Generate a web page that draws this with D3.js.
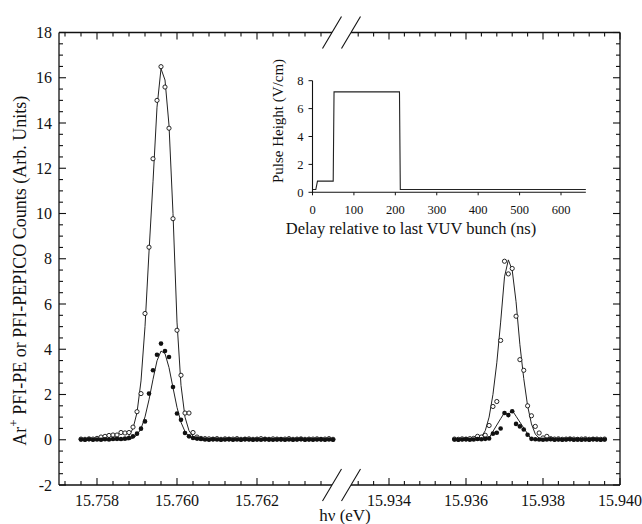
<!DOCTYPE html>
<html><head><meta charset="utf-8">
<script src="https://cdn.jsdelivr.net/npm/d3@7"></script>
<style>
html,body{margin:0;padding:0;background:#fff;}
svg{display:block;font-family:"Liberation Serif","Times New Roman",serif;}
</style></head><body>
<svg id="chart" width="642" height="524"></svg>
<script>
// ---------- DATA ----------
const leftEnergy = [15.7576,15.7577,15.7578,15.7579,15.7580,15.7581,15.7582,15.7583,15.7584,15.7585,
  15.7586,15.7587,15.7588,15.7589,15.7590,15.7591,15.7592,15.7593,15.7594,15.7595,
  15.7596,15.7597,15.7598,15.7599,15.7600,15.7601,15.7602,15.7603,15.7604,15.7605,
  15.7606,15.7607,15.7608,15.7609,15.7610,15.7611,15.7612,15.7613,15.7614,15.7615,
  15.7616,15.7617,15.7618,15.7619,15.7620,15.7621,15.7622,15.7623,15.7624,15.7625,
  15.7626,15.7627,15.7628,15.7629,15.7630,15.7631,15.7632,15.7633,15.7634,15.7635,
  15.7636,15.7637,15.7638,15.7639];
const leftPE = [0.03,0.02,0.04,0.03,0.06,0.12,0.15,0.19,0.21,0.21,
  0.32,0.30,0.32,0.56,1.24,2.04,5.58,8.51,12.42,15.0,
  16.49,15.59,13.77,9.77,4.84,2.85,1.18,1.18,0.32,0.12,
  0.06,0.05,0.04,0.03,0.05,0.02,0.04,0.03,0.03,0.05,
  0.02,0.03,0.04,0.02,0.03,0.05,0.03,0.02,0.04,0.03,
  0.02,0.03,0.05,0.02,0.03,0.04,0.02,0.03,0.03,0.04,
  0.02,0.03,0.05,0.02];
const leftPEPICO = [0.01,0.0,0.02,0.0,0.01,0.0,0.02,0.01,0.03,0.04,
  0.03,0.05,0.08,0.15,0.27,0.49,0.81,2.04,3.07,3.76,
  4.25,3.92,3.66,2.33,1.16,0.88,0.30,0.15,0.08,0.05,
  0.03,0.01,0.0,0.02,0.01,0.0,0.01,0.02,0.0,0.01,
  0.0,0.02,0.01,0.0,0.01,0.0,0.02,0.01,0.0,0.01,
  0.02,0.0,0.01,0.0,0.01,0.02,0.0,0.01,0.0,0.01,
  0.02,0.0,0.01,0.0];
const leftPEFit = [0,0,0,0,0,0,0,0,0,0,
  0,0,0.18,0.5,1.2,2.6,5.0,8.3,11.4,14.7,
  16.4,15.9,13.9,10.0,5.2,2.4,1.0,0.4,0.15,0.05,
  0,0,0,0,0,0,0,0,0,0,
  0,0,0,0,0,0,0,0,0,0,
  0,0,0,0,0,0,0,0,0,0,
  0,0,0,0];
const leftPEPICOFit = [0,0,0,0,0,0,0,0,0,0,
  0,0,0,0.08,0.21,0.49,1.01,1.77,2.67,3.49,
  3.92,3.81,3.19,2.30,1.43,0.77,0.36,0.14,0.05,0,
  0,0,0,0,0,0,0,0,0,0,
  0,0,0,0,0,0,0,0,0,0,
  0,0,0,0,0,0,0,0,0,0,
  0,0,0,0];

const rightEnergy = [15.9357,15.9358,15.9359,15.9360,15.9361,15.9362,15.9363,15.9364,15.9365,15.9366,
  15.9367,15.9368,15.9369,15.9370,15.9371,15.9372,15.9373,15.9374,15.9375,15.9376,
  15.9377,15.9378,15.9379,15.9380,15.9381,15.9382,15.9383,15.9384,15.9385,15.9386,
  15.9387,15.9388,15.9389,15.9390,15.9391,15.9392,15.9393,15.9394,15.9395,15.9396];
const rightPE = [0.03,0.02,0.04,0.03,0.05,0.06,0.15,0.12,0.2,0.63,
  1.47,1.69,4.39,7.89,7.33,7.57,5.46,3.54,3.07,1.5,
  1.06,0.59,0.30,0.08,0.15,0.05,0.03,0.04,0.02,0.03,
  0.04,0.03,0.02,0.03,0.04,0.02,0.03,0.03,0.02,0.03];
const rightPEPICO = [0.01,0.0,0.01,0.02,0.0,0.01,0.03,0.02,0.04,0.06,
  0.27,0.31,0.5,1.18,1.09,1.26,0.70,0.59,0.45,0.22,
  0.04,0.02,0.01,0.0,0.01,0.02,0.0,0.01,0.0,0.01,
  0.02,0.0,0.01,0.0,0.01,0.0,0.02,0.01,0.0,0.01];
const rightPEFit = [0,0,0,0,0,0,0.04,0.13,0.4,1.0,
  2.0,3.4,5.2,7.2,7.95,7.5,6.1,4.2,2.7,1.5,
  0.7,0.25,0.07,0,0,0,0,0,0,0,
  0,0,0,0,0,0,0,0,0,0];
const rightPEPICOFit = [0,0,0,0,0,0,0,0,0,0.08,
  0.37,0.65,0.93,1.2,1.1,1.3,1.04,0.78,0.52,0.26,
  0.02,0,0,0,0,0,0,0,0,0,
  0,0,0,0,0,0,0,0,0,0];

const leftTicks = [15.758, 15.760, 15.762];
const rightTicks = [15.934, 15.936, 15.938, 15.940];
const yTicks = [-2, 0, 2, 4, 6, 8, 10, 12, 14, 16, 18];

const pulseTime = [0, 8, 12, 50, 52, 210, 212, 660];
const pulseField = [0.2, 0.2, 0.8, 0.8, 7.2, 7.2, 0.2, 0.2];
const insetXTicks = [0, 100, 200, 300, 400, 500, 600];
const insetYTicks = [0, 2, 4, 6, 8];

// ---------- LAYOUT ----------
const L = 59, R = 620, T = 32.5, B = 485;
const breakL = 332, breakR = 351;
const svg = d3.select("#chart");
const ink = "#111";

const y = d3.scaleLinear().domain([-2, 18]).range([B, T]);
const xL = d3.scaleLinear().domain([15.758, 15.762]).range([97, 257]);
const xR = d3.scaleLinear().domain([15.934, 15.940]).range([389, 620]);

const g = svg.append("g");

// frame
const frame = g.append("g").attr("stroke", ink).attr("stroke-width", 1.3).attr("fill", "none");
frame.append("line").attr("x1", L).attr("x2", L).attr("y1", T).attr("y2", B);
frame.append("line").attr("x1", R).attr("x2", R).attr("y1", T).attr("y2", B);
[T, B].forEach(yy => {
  frame.append("line").attr("x1", L).attr("x2", breakL).attr("y1", yy).attr("y2", yy);
  frame.append("line").attr("x1", breakR).attr("x2", R).attr("y1", yy).attr("y2", yy);
  [breakL, breakR].forEach(bx => {
    frame.append("line").attr("x1", bx - 9.5).attr("y1", yy + 16).attr("x2", bx + 9.5).attr("y2", yy - 16)
      .attr("stroke-width", 1.1);
  });
});

// y ticks
const tk = g.append("g").attr("stroke", ink).attr("stroke-width", 1.1);
d3.range(-2, 18.01, 0.5).forEach(v => {
  const major = Math.abs(v / 2 - Math.round(v / 2)) < 1e-6;
  const len = major ? 7 : 4;
  tk.append("line").attr("x1", L).attr("x2", L + len).attr("y1", y(v)).attr("y2", y(v));
  tk.append("line").attr("x1", R).attr("x2", R - len).attr("y1", y(v)).attr("y2", y(v));
});
g.append("g").selectAll("text").data(yTicks).join("text")
  .attr("x", L - 7).attr("y", d => y(d) + 5.5).attr("text-anchor", "end")
  .attr("font-size", 16).attr("fill", ink).text(d => d);

// x ticks
function xTickSet(scale, lo, hi, majors) {
  const vals = d3.range(lo, hi + 1e-7, 0.0004);
  vals.forEach(v => {
    const px = scale(v);
    const major = majors.some(m => Math.abs(m - v) < 1e-7);
    const len = major ? 7 : 4;
    tk.append("line").attr("x1", px).attr("x2", px).attr("y1", B).attr("y2", B - len);
    tk.append("line").attr("x1", px).attr("x2", px).attr("y1", T).attr("y2", T + len);
  });
}
xTickSet(xL, 15.7572, 15.7636, leftTicks);
xTickSet(xR, 15.9332, 15.9400, rightTicks);
g.append("g").selectAll("text").data(leftTicks).join("text")
  .attr("x", d => xL(d)).attr("y", B + 21).attr("text-anchor", "middle")
  .attr("font-size", 16).attr("fill", ink).text(d => d.toFixed(3));
g.append("g").selectAll("text").data(rightTicks).join("text")
  .attr("x", d => xR(d)).attr("y", B + 21).attr("text-anchor", "middle")
  .attr("font-size", 16).attr("fill", ink).text(d => d.toFixed(3));

// axis titles
g.append("text").attr("x", 345).attr("y", 521).attr("text-anchor", "middle")
  .attr("font-size", 17).attr("fill", ink).text("hν (eV)");
const yt = g.append("text").attr("transform", `translate(26,${(T + B) / 2 + 12}) rotate(-90)`)
  .attr("text-anchor", "middle").attr("font-size", 18).attr("fill", ink);
yt.append("tspan").text("Ar");
yt.append("tspan").attr("dy", -8).attr("font-size", 13).text("+");
yt.append("tspan").attr("dy", 8).text(" PFI-PE or PFI-PEPICO Counts (Arb. Units)");

// ---------- SERIES ----------
function series(xs, scale, ys) { return xs.map((e, i) => [scale(e), y(ys[i])]); }
const line = d3.line();
const lines = g.append("g").attr("fill", "none").attr("stroke", "#222").attr("stroke-width", 1);
lines.append("path").attr("d", line(series(leftEnergy, xL, leftPEFit)));
lines.append("path").attr("d", line(series(leftEnergy, xL, leftPEPICOFit)));
lines.append("path").attr("d", line(series(rightEnergy, xR, rightPEFit)));
lines.append("path").attr("d", line(series(rightEnergy, xR, rightPEPICOFit)));

function openPts(xs, scale, ys) {
  g.append("g").selectAll("circle").data(series(xs, scale, ys)).join("circle")
    .attr("cx", d => d[0]).attr("cy", d => d[1]).attr("r", 2.1)
    .attr("fill", "#fff").attr("stroke", ink).attr("stroke-width", 0.9);
}
function filledPts(xs, scale, ys) {
  g.append("g").selectAll("circle").data(series(xs, scale, ys)).join("circle")
    .attr("cx", d => d[0]).attr("cy", d => d[1]).attr("r", 2.3).attr("fill", ink);
}
openPts(leftEnergy, xL, leftPE);
openPts(rightEnergy, xR, rightPE);
filledPts(leftEnergy, xL, leftPEPICO);
filledPts(rightEnergy, xR, rightPEPICO);

// ---------- INSET ----------
const xi = d3.scaleLinear().domain([0, 600]).range([312.5, 561]);
const yi = d3.scaleLinear().domain([0, 8]).range([192.3, 80.7]);
const ins = g.append("g");
ins.append("line").attr("x1", xi(0)).attr("x2", xi(0)).attr("y1", yi(8)).attr("y2", yi(0) + 1)
  .attr("stroke", ink).attr("stroke-width", 1.1);
ins.append("line").attr("x1", xi(0)).attr("x2", xi(660)).attr("y1", yi(0)).attr("y2", yi(0))
  .attr("stroke", ink).attr("stroke-width", 1.1);
insetYTicks.forEach(v => {
  ins.append("line").attr("x1", xi(0) - 4).attr("x2", xi(0)).attr("y1", yi(v)).attr("y2", yi(v))
    .attr("stroke", ink).attr("stroke-width", 1);
});
insetXTicks.forEach(v => {
  ins.append("line").attr("x1", xi(v)).attr("x2", xi(v)).attr("y1", yi(0)).attr("y2", yi(0) + 3)
    .attr("stroke", ink).attr("stroke-width", 1);
});
ins.selectAll("text.yl").data(insetYTicks).join("text").attr("class", "yl")
  .attr("x", xi(0) - 9).attr("y", d => yi(d) + 4.5).attr("text-anchor", "end")
  .attr("font-size", 12.5).attr("fill", ink).text(d => d);
ins.selectAll("text.xl").data(insetXTicks).join("text").attr("class", "xl")
  .attr("x", d => xi(d)).attr("y", 214).attr("text-anchor", "middle")
  .attr("font-size", 12.5).attr("fill", ink).text(d => d);
ins.append("path").attr("fill", "none").attr("stroke", "#222").attr("stroke-width", 1.1)
  .attr("d", d3.line()(pulseTime.map((t, i) => [xi(t), yi(pulseField[i])])));
ins.append("text").attr("x", 411).attr("y", 234).attr("text-anchor", "middle")
  .attr("font-size", 16.5).attr("fill", ink).text("Delay relative to last VUV bunch (ns)");
ins.append("text").attr("transform", "translate(283,121) rotate(-90)").attr("text-anchor", "middle")
  .attr("font-size", 15).attr("fill", ink).text("Pulse Height  (V/cm)");
</script>
</body></html>
